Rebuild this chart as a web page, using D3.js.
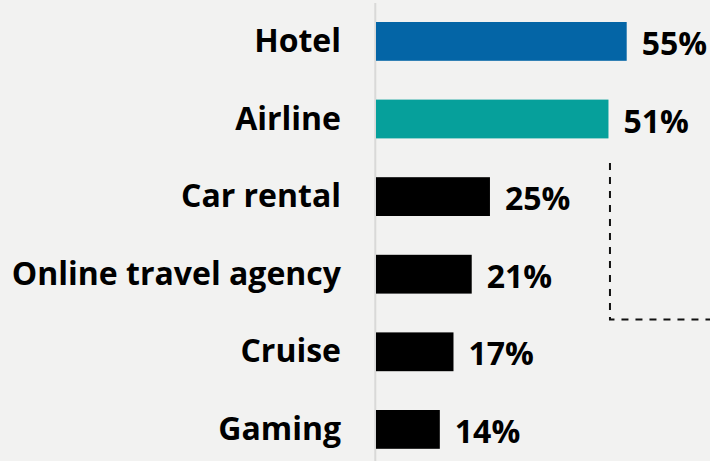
<!DOCTYPE html>
<html>
<head>
<meta charset="utf-8">
<script src="https://cdn.jsdelivr.net/npm/d3@7/dist/d3.min.js"></script>
<style>
  html, body { margin: 0; padding: 0; background: #f2f2f1; }
  svg { display: block; }
  text { font-family: "Open Sans", sans-serif; font-weight: 700; fill: #000; }
</style>
</head>
<body>
<div id="chart"></div>
<script>
// Share of respondents by travel category
const categories = ["Hotel", "Airline", "Car rental", "Online travel agency", "Cruise", "Gaming"];
const values = [55, 51, 25, 21, 17, 14];
const barColors = ["#0465a6", "#06a09b", "#000000", "#000000", "#000000", "#000000"];

const width = 710, height = 461;
const svg = d3.select("#chart").append("svg")
  .attr("width", width).attr("height", height);

svg.append("rect").attr("width", width).attr("height", height).attr("fill", "#f2f2f1");

const x = d3.scaleLinear().domain([0, 55]).range([376, 626.7]);
const y = d3.scaleBand().domain(categories).range([22, 448.8]).paddingInner(0.5).paddingOuter(0);

// Baseline rule
svg.append("line")
  .attr("x1", 375.3).attr("x2", 375.3)
  .attr("y1", 3).attr("y2", height)
  .attr("stroke", "#d9d9d8").attr("stroke-width", 2);

const rows = categories.map((c, i) => ({ c, v: values[i], color: barColors[i] }));

svg.selectAll("rect.bar").data(rows).join("rect")
  .attr("class", "bar")
  .attr("x", x(0))
  .attr("y", d => y(d.c))
  .attr("width", d => x(d.v) - x(0))
  .attr("height", y.bandwidth())
  .attr("fill", d => d.color);

const fs = 32;
// Category labels
svg.selectAll("text.cat").data(rows).join("text")
  .attr("class", "cat")
  .attr("x", 341)
  .attr("y", d => y(d.c) + y.bandwidth() / 2 + 10.5)
  .attr("text-anchor", "end")
  .attr("font-size", fs)
  .text(d => d.c);

// Value labels
svg.selectAll("text.val").data(rows).join("text")
  .attr("class", "val")
  .attr("x", d => x(d.v) + 15)
  .attr("y", d => y(d.c) + y.bandwidth() / 2 + 13.5)
  .attr("font-size", fs)
  .text(d => d.v + "%");

// Dashed bracket grouping the smaller categories
const bx = x(51) + 1.5;
svg.append("path")
  .attr("d", `M${bx},163 V319.5 H${width}`)
  .attr("fill", "none")
  .attr("stroke", "#111")
  .attr("stroke-width", 2)
  .attr("stroke-dasharray", "7,7");
</script>
</body>
</html>
